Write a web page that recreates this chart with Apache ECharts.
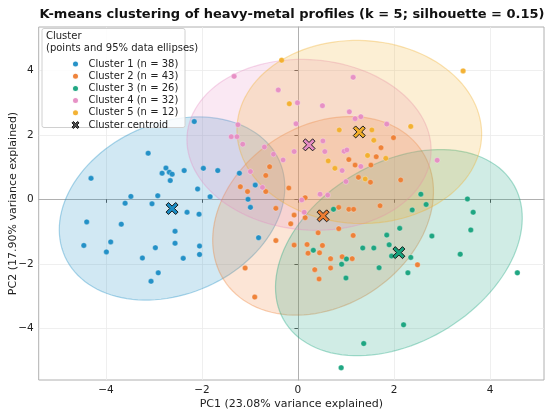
<!DOCTYPE html>
<html><head><meta charset="utf-8">
<script src="https://cdn.jsdelivr.net/npm/echarts@6/dist/echarts.min.js"></script>
<style>html,body{margin:0;padding:0;background:#fff}#c{width:550px;height:414px}</style>
</head><body><div id="c"></div>
<script>
const titleText = 'K-means clustering of heavy-metal profiles (k = 5; silhouette = 0.15)';
const xName = 'PC1 (23.08% variance explained)';
const yName = 'PC2 (17.90% variance explained)';
const tickValues = [-4, -2, 0, 2, 4];
const clusterLabels = ['Cluster 1 (n = 38)', 'Cluster 2 (n = 43)', 'Cluster 3 (n = 26)', 'Cluster 4 (n = 32)', 'Cluster 5 (n = 12)'];
const centroidLabel = 'Cluster centroid';
const colors = ['#1a8cc4', '#ee7d31', '#15a27c', '#e68cc3', '#f2ae2a'];

const cluster1 = [[-3.12,1.43],[-4.31,0.65],[-2.75,0.97],[-2.83,0.81],[-2.68,0.84],[-2.62,0.78],[-2.66,0.58],[-2.37,0.89],[-1.97,0.96],[-1.67,0.89],[-1.22,0.81],[-2.09,0.32],[-1.83,0.08],[-3.48,0.09],[-2.92,0.11],[-3.60,-0.12],[-3.04,-0.14],[-2.31,-0.40],[-2.06,-0.46],[-4.40,-0.70],[-3.68,-0.77],[-2.56,-0.99],[-3.90,-1.32],[-4.46,-1.43],[-2.56,-1.36],[-2.97,-1.50],[-2.05,-1.45],[-3.99,-1.63],[-2.05,-1.71],[-3.24,-1.82],[-2.39,-1.83],[-2.91,-2.28],[-3.06,-2.54],[-2.16,2.41],[-0.89,0.44],[-1.04,0.00],[-0.99,-0.25],[-0.82,-1.19]];
const cluster2 = [[1.99,1.91],[1.73,1.60],[1.63,1.32],[1.52,1.06],[1.19,1.06],[1.06,1.23],[1.26,0.68],[1.51,0.53],[2.14,0.60],[1.71,-0.20],[-0.59,1.01],[-0.67,0.74],[-1.20,0.39],[-1.05,0.24],[-0.67,0.24],[-0.19,0.35],[0.15,0.05],[-0.46,-0.28],[0.85,-0.25],[1.06,-0.31],[1.16,-0.31],[-0.08,-0.49],[0.15,-0.57],[-0.15,-0.76],[0.85,-0.91],[0.42,-1.04],[1.15,-1.12],[-0.46,-1.28],[-0.08,-1.42],[0.19,-1.40],[0.51,-1.43],[0.21,-1.67],[0.45,-1.66],[0.68,-1.84],[0.92,-1.78],[1.13,-1.84],[0.35,-2.18],[0.68,-2.13],[0.44,-2.47],[-1.10,-2.13],[-0.90,-3.03],[2.49,-2.03]];
const cluster3 = [[2.56,0.16],[2.67,-0.16],[2.38,-0.33],[3.53,0.01],[3.65,-0.40],[3.60,-0.95],[2.79,-1.14],[2.12,-0.90],[1.85,-1.11],[1.90,-1.41],[1.35,-1.51],[1.58,-1.51],[1.95,-1.76],[2.35,-1.80],[3.38,-1.70],[1.01,-1.85],[0.91,-2.01],[1.69,-2.12],[2.29,-2.28],[1.00,-2.44],[4.57,-2.28],[2.20,-3.89],[1.37,-4.47],[0.74,-0.31],[0.32,-1.58],[0.90,-5.22]];
const cluster4 = [[-1.33,3.81],[1.15,3.78],[-0.41,3.39],[-0.01,2.99],[0.51,2.90],[1.07,2.71],[1.19,2.50],[1.31,2.56],[1.85,2.33],[-0.04,2.34],[-1.25,2.31],[-1.39,1.94],[-1.27,1.94],[-1.15,1.71],[-0.70,1.62],[0.52,1.81],[0.56,1.48],[0.96,1.49],[1.02,1.53],[-0.08,1.48],[-0.51,1.40],[-0.31,1.22],[1.31,1.02],[0.92,0.89],[-0.99,0.86],[-0.74,0.37],[1.00,0.55],[0.46,0.16],[0.62,0.13],[0.08,-0.02],[0.13,-0.40],[2.90,1.21]];
const cluster5 = [[-0.34,4.31],[-0.18,2.96],[0.86,2.15],[1.54,2.15],[2.35,2.26],[1.58,1.83],[1.45,1.36],[1.83,1.27],[0.63,1.19],[0.77,0.96],[1.40,0.63],[3.44,3.98]];
const clusters = [cluster1, cluster2, cluster3, cluster4, cluster5];

const xPath = 'path://M-1,-0.6L-0.6,-1L0,-0.4L0.6,-1L1,-0.6L0.4,0L1,0.6L0.6,1L0,0.4L-0.6,1L-1,0.6L-0.4,0Z';
const FONT = 'DejaVu Sans';

function stats(pts) {
  const n = pts.length;
  let mx = 0, my = 0;
  pts.forEach(p => { mx += p[0]; my += p[1]; });
  mx /= n; my /= n;
  let a = 0, b = 0, d = 0;
  pts.forEach(p => { const dx = p[0] - mx, dy = p[1] - my; a += dx * dx; b += dx * dy; d += dy * dy; });
  a /= (n - 1); b /= (n - 1); d /= (n - 1);
  const tr = (a + d) / 2, disc = Math.sqrt(((a - d) / 2) ** 2 + b * b);
  const l1 = tr + disc, l2 = tr - disc;
  const th = 0.5 * Math.atan2(2 * b, a - d);
  const k = 5.991;
  const r1 = Math.sqrt(k * l1), r2 = Math.sqrt(k * l2);
  const ring = [];
  for (let i = 0; i <= 120; i++) {
    const t = i / 120 * Math.PI * 2;
    const ex = r1 * Math.cos(t), ey = r2 * Math.sin(t);
    ring.push([mx + ex * Math.cos(th) - ey * Math.sin(th), my + ex * Math.sin(th) + ey * Math.cos(th)]);
  }
  return { mx, my, ring };
}
function rgba(hex, a) {
  const v = parseInt(hex.slice(1), 16);
  return 'rgba(' + ((v >> 16) & 255) + ',' + ((v >> 8) & 255) + ',' + (v & 255) + ',' + a + ')';
}
const st = clusters.map(stats);

const series = [];
st.forEach((s, i) => {
  series.push({
    name: 'ellipse' + (i + 1), type: 'custom', z: 1, silent: true,
    data: [[s.mx, s.my]],
    renderItem: (params, api) => ({
      type: 'polygon',
      shape: { points: s.ring.map(p => api.coord(p)) },
      style: { fill: rgba(colors[i], 0.2), stroke: rgba(colors[i], 0.35), lineWidth: 1.2 }
    })
  });
});
clusters.forEach((pts, i) => {
  series.push({
    name: clusterLabels[i], type: 'scatter', z: 3, symbol: 'circle', symbolSize: 5.5,
    itemStyle: { color: colors[i], opacity: 0.95, borderColor: '#fff', borderWidth: 0.3 },
    data: pts
  });
});
series.push({
  name: centroidLabel, type: 'scatter', z: 5, symbol: xPath, symbolSize: 12,
  itemStyle: { color: '#555', borderColor: '#1a1a1a', borderWidth: 1, opacity: 1 },
  data: st.map((s, i) => ({ value: [s.mx, s.my], itemStyle: { color: colors[i] } }))
});

const minusFmt = v => String(v).replace('-', '\u2212');
const chart = echarts.init(document.getElementById('c'), null, { renderer: 'canvas' });
chart.setOption({
  animation: false,
  backgroundColor: '#fff',
  title: { text: titleText, left: 287, textAlign: 'center', top: 3, textStyle: { fontFamily: FONT, fontSize: 13, fontWeight: 'bold', color: '#111' } },
  grid: { left: 38.7, right: 6, top: 27, bottom: 34, containLabel: false, outerBoundsMode: 'none', show: true, borderColor: '#b0b0b0', borderWidth: 1, backgroundColor: 'transparent' },
  xAxis: {
    type: 'value', min: -5.4, max: 5.125,
    name: xName, nameLocation: 'middle', nameGap: 19, nameMoveOverlap: false,
    nameTextStyle: { fontFamily: FONT, fontSize: 11, color: '#222' },
    axisLine: { show: true, lineStyle: { color: '#b0b0b0' } },
    axisTick: { show: true, length: 3.5, lineStyle: { color: '#555' }, customValues: tickValues },
    axisLabel: { fontFamily: FONT, fontSize: 10.5, color: '#222', margin: 5, customValues: tickValues, formatter: minusFmt },
    splitLine: { show: true, lineStyle: { color: '#ebebeb', width: 0.8 } }
  },
  yAxis: {
    type: 'value', min: -5.6, max: 5.34,
    name: yName, nameLocation: 'middle', nameGap: 20, nameMoveOverlap: false,
    nameTextStyle: { fontFamily: FONT, fontSize: 11, color: '#222' },
    axisLine: { show: true, lineStyle: { color: '#b0b0b0' } },
    axisTick: { show: true, length: 3.5, lineStyle: { color: '#555' }, customValues: tickValues },
    axisLabel: { fontFamily: FONT, fontSize: 10.5, color: '#222', margin: 5, customValues: tickValues, formatter: minusFmt },
    splitLine: { show: true, lineStyle: { color: '#ebebeb', width: 0.8 } }
  },
  legend: {
    orient: 'vertical', left: 66, top: 54, itemWidth: 16, itemHeight: 7, itemGap: 2.2, z: 101,
    textStyle: { fontFamily: FONT, fontSize: 10, color: '#222' },
    data: clusterLabels.map(n => ({ name: n, icon: 'circle' })).concat([
      { name: centroidLabel, icon: xPath, itemStyle: { color: '#555', borderColor: '#111', borderWidth: 1 } }
    ])
  },
  graphic: [
    { type: 'rect', z: 100, shape: { x: 42, y: 28.5, width: 143, height: 99, r: 2 }, style: { fill: 'rgba(255,255,255,0.85)', stroke: '#d0d0d0', lineWidth: 1 } },
    { type: 'text', z: 101, left: 46, top: 31, style: { text: 'Cluster', fontFamily: FONT, fontSize: 10, fill: '#222' } },
    { type: 'text', z: 101, left: 46, top: 43, style: { text: '(points and 95% data ellipses)', fontFamily: FONT, fontSize: 10, fill: '#222' } }
  ],
  series: series
});
</script></body></html>
